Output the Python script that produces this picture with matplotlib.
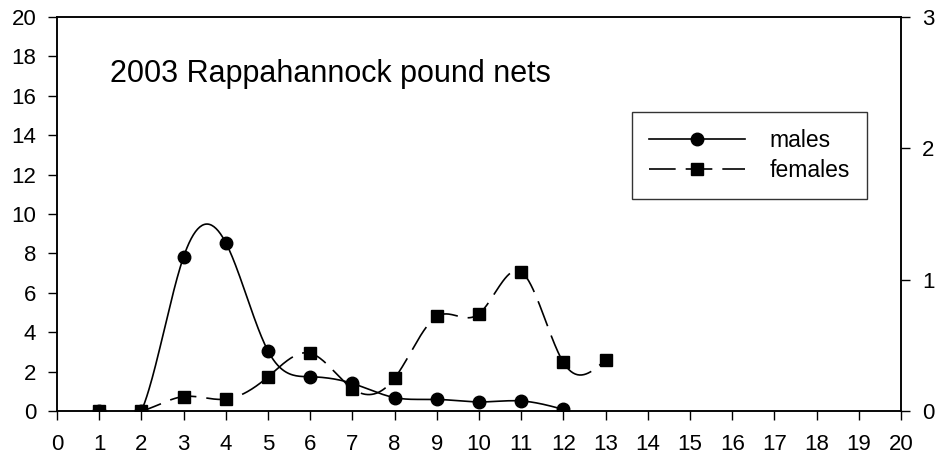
import numpy as np
import matplotlib
matplotlib.use('Agg')
import matplotlib.pyplot as plt
from matplotlib.lines import Line2D

plt.rcParams['font.family'] = ['Liberation Sans', 'DejaVu Sans']

# data
weeks = [1, 2, 3, 4, 5, 6, 7, 8, 9, 10, 11, 12, 13]
males = [0, 0, 7.83, 8.54, 3.05, 1.74, 1.40, 0.68, 0.59, 0.46, 0.51, 0.08]      # left axis
females = [0, 0, 0.11, 0.09, 0.26, 0.44, 0.17, 0.25, 0.72, 0.74, 1.06, 0.37, 0.39]  # right axis
title = '2003 Rappahannock pound nets'


def natural_spline(x, y, n=40):  # natural cubic spline, only used to draw the smooth line
    x = np.asarray(x, float)
    y = np.asarray(y, float)
    k = len(x)
    h = np.diff(x)
    A = np.zeros((k, k))
    r = np.zeros(k)
    A[0, 0] = A[-1, -1] = 1
    for i in range(1, k - 1):
        A[i, i - 1] = h[i - 1]
        A[i, i] = 2 * (h[i - 1] + h[i])
        A[i, i + 1] = h[i]
        r[i] = 6 * ((y[i + 1] - y[i]) / h[i] - (y[i] - y[i - 1]) / h[i - 1])
    M = np.linalg.solve(A, r)
    xs, ys = [], []
    for i in range(k - 1):
        t = np.linspace(x[i], x[i + 1], n)
        a = (x[i + 1] - t) / h[i]
        b = (t - x[i]) / h[i]
        s = (a * y[i] + b * y[i + 1]
             + ((a ** 3 - a) * M[i] + (b ** 3 - b) * M[i + 1]) * h[i] ** 2 / 6)
        xs.append(t)
        ys.append(s)
    return np.concatenate(xs), np.concatenate(ys)


fig = plt.figure(figsize=(9.4, 4.62), dpi=100)
ax = fig.add_axes([57 / 940, 51 / 462, 844 / 940, 394 / 462])
ax2 = ax.twinx()

mx = weeks[:len(males)]
sx, sy = natural_spline(mx, males)
ax.plot(sx, sy, color='black', lw=1.2, zorder=3)
ax.plot(mx, males, 'o', color='black', ms=9, zorder=4)

fx, fy = natural_spline(weeks, females)
ax2.plot(fx, fy, color='black', lw=1.2, dashes=(16, 6), zorder=3)
ax2.plot(weeks, females, 's', color='black', ms=9, zorder=4)

ax.set_xlim(0, 20)
ax.set_ylim(0, 20)
ax2.set_ylim(0, 3)
ax.set_xticks(range(0, 21))
ax.set_yticks(range(0, 21, 2))
ax2.set_yticks([0, 1, 2, 3])
for a in (ax, ax2):
    a.tick_params(direction='out', length=6.5, width=1, labelsize=16, pad=8.5)
    for sp in a.spines.values():
        sp.set_linewidth(1.1)
ax.tick_params(axis='x', pad=10)

ax.text(110 / 940, 1 - 82 / 462, title, transform=fig.transFigure,
        fontsize=22, va='baseline', ha='left')

h1 = Line2D([], [], color='black', lw=1.2, marker='o', ms=9)
h2 = Line2D([], [], color='black', lw=1.2, dashes=(16, 6), marker='s', ms=9)
leg = ax2.legend([h1, h2], ['males', 'females'], loc='upper left',
                 bbox_to_anchor=(632 / 940, 1 - 112 / 462), bbox_transform=fig.transFigure,
                 borderaxespad=0, fontsize=16.5, handlelength=4.2, handletextpad=1.05,
                 frameon=True, fancybox=False, edgecolor='black', borderpad=0.75,
                 labelspacing=0.3)
leg.get_frame().set_linewidth(1.0)

fig.savefig('out.png', dpi=100)
